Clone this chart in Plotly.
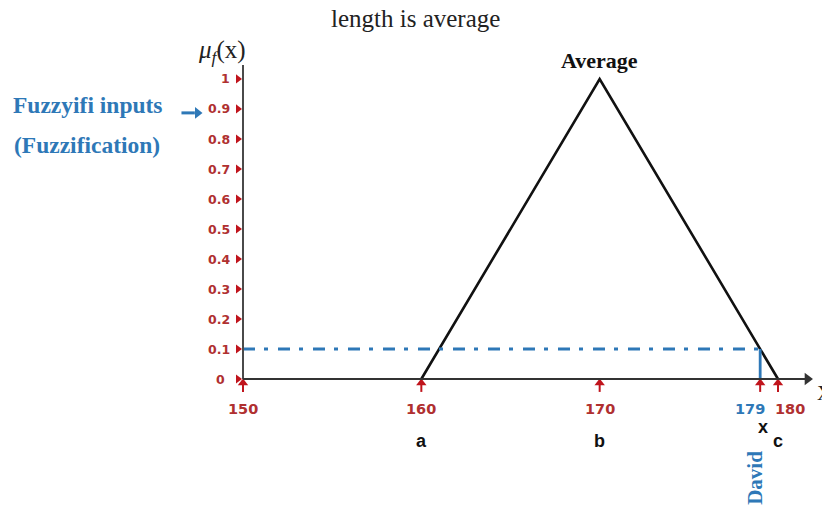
import plotly.graph_objects as go

# Membership function "average" (triangular) over length
mf_x = [160, 170, 180]
mf_y = [0, 1, 0]

# Crisp input and its membership degree
david_length = 179
david_mu = 0.1

# Axis ticks
y_ticks = [0, 0.1, 0.2, 0.3, 0.4, 0.5, 0.6, 0.7, 0.8, 0.9, 1]
y_tick_labels = ["0", "0.1", "0.2", "0.3", "0.4", "0.5", "0.6", "0.7", "0.8", "0.9", "1"]
x_ticks = [150, 160, 170, 179, 180]
x_tick_labels = ["150", "160", "170", "179", "180"]
x_tick_colors = ["#b03030", "#b03030", "#b03030", "#2e78b7", "#b03030"]
x_tick_label_shift = [0, 0, 0, -0.55, 0.65]

# Point names under the axis
point_names = ["a", "b", "c"]
point_x = [160, 170, 180]

RED = "#b03030"
ARROW_RED = "#c0141c"
BLUE = "#2e78b7"

x0 = 150
x_axis_end = 181.9
y_axis_top = 1.047

fig = go.Figure()

# Triangular membership curve
fig.add_trace(go.Scatter(x=mf_x, y=mf_y, mode="lines",
                         line=dict(color="#111111", width=2.6),
                         hoverinfo="skip"))

# Dash-dot level line at the membership degree
fig.add_trace(go.Scatter(x=[x0, david_length], y=[david_mu, david_mu], mode="lines",
                         line=dict(color=BLUE, width=2.8, dash="12px,9px,4px,10px"),
                         hoverinfo="skip"))

# Vertical drop from the curve to the crisp input
fig.add_trace(go.Scatter(x=[david_length, david_length], y=[david_mu, 0], mode="lines",
                         line=dict(color=BLUE, width=2.8),
                         hoverinfo="skip"))

# Y-axis tick markers
fig.add_trace(go.Scatter(x=[149.72] * len(y_ticks), y=y_ticks, mode="markers",
                         marker=dict(symbol="triangle-right", size=8, color=ARROW_RED),
                         hoverinfo="skip"))

# X-axis tick arrows: short stems with heads pointing up at the axis
for v in x_ticks:
    fig.add_trace(go.Scatter(x=[v, v], y=[-0.043, -0.015], mode="lines",
                             line=dict(color=ARROW_RED, width=2), hoverinfo="skip"))
fig.add_trace(go.Scatter(x=x_ticks, y=[-0.013] * len(x_ticks), mode="markers",
                         marker=dict(symbol="triangle-up", size=9, color=ARROW_RED),
                         hoverinfo="skip"))

# Axis lines
fig.add_shape(type="line", x0=x0, y0=0, x1=x0, y1=y_axis_top,
              line=dict(color="#4a4a4a", width=2))
fig.add_shape(type="line", x0=x0, y0=0, x1=x_axis_end - 0.3, y1=0,
              line=dict(color="#333333", width=2))

# X-axis arrowhead
fig.add_trace(go.Scatter(x=[x_axis_end - 0.25], y=[0], mode="markers",
                         marker=dict(symbol="triangle-right", size=11, color="#333333"),
                         hoverinfo="skip"))

# Arrow beside the side note
fig.add_trace(go.Scatter(x=[146.55, 147.3], y=[0.887, 0.887], mode="lines",
                         line=dict(color=BLUE, width=3), hoverinfo="skip"))
fig.add_trace(go.Scatter(x=[147.45], y=[0.887], mode="markers",
                         marker=dict(symbol="triangle-right", size=10, color=BLUE),
                         hoverinfo="skip"))

annotations = []

annotations.append(dict(x=182.05, y=-0.045, xref="x", yref="y", text="X",
                        showarrow=False, xanchor="left",
                        font=dict(family="Liberation Serif", size=20, color="#222222")))

# Y tick labels
for v, lab in zip(y_ticks, y_tick_labels):
    if lab == "0":
        annotations.append(dict(x=148.75, y=v, xref="x", yref="y", text=lab,
                                showarrow=False, xanchor="center",
                                font=dict(family="DejaVu Sans", size=12.5, color=RED, weight="bold")))
    else:
        annotations.append(dict(x=149.4, y=v, xref="x", yref="y", text=lab,
                                showarrow=False, xanchor="right",
                                font=dict(family="DejaVu Sans", size=12.5, color=RED, weight="bold")))

# X tick labels
for v, lab, col, sh in zip(x_ticks, x_tick_labels, x_tick_colors, x_tick_label_shift):
    annotations.append(dict(x=v + sh, y=-0.1, xref="x", yref="y", text=lab,
                            showarrow=False, xanchor="center",
                            font=dict(family="DejaVu Sans", size=14.5, color=col, weight="bold")))

# Point names a, b, c and the crisp input x
for name, px in zip(point_names, point_x):
    annotations.append(dict(x=px, y=-0.205, xref="x", yref="y", text=name,
                            showarrow=False, xanchor="center",
                            font=dict(family="Liberation Sans", size=18, color="#111111", weight="bold")))
annotations.append(dict(x=david_length + 0.15, y=-0.16, xref="x", yref="y", text="x",
                        showarrow=False, xanchor="center",
                        font=dict(family="Liberation Sans", size=18, color="#111111", weight="bold")))

# Name of the crisp input, written vertically
annotations.append(dict(x=david_length - 0.3, y=-0.33, xref="x", yref="y", text="David",
                        showarrow=False, textangle=-90,
                        font=dict(family="Liberation Serif", size=21, color=BLUE, weight="bold")))

# Fuzzy set label above the peak
annotations.append(dict(x=170, y=1.063, xref="x", yref="y", text="Average",
                        showarrow=False,
                        font=dict(family="Liberation Serif", size=22, color="#111111", weight="bold")))

# Membership axis label
annotations.append(dict(x=148.8, y=1.09, xref="x", yref="y",
                        text="<i>μ</i><sub><i>f</i></sub>(x)",
                        showarrow=False,
                        font=dict(family="Liberation Serif", size=25, color="#222222")))

# Side note pointing to the membership axis
annotations.append(dict(x=141.3, y=0.913, xref="x", yref="y", text="Fuzzyifi inputs",
                        showarrow=False,
                        font=dict(family="Liberation Serif", size=23.5, color=BLUE, weight="bold")))
annotations.append(dict(x=141.25, y=0.78, xref="x", yref="y", text="(Fuzzification)",
                        showarrow=False,
                        font=dict(family="Liberation Serif", size=23.5, color=BLUE, weight="bold")))

# Chart title
annotations.append(dict(x=159.65, y=1.2, xref="x", yref="y", text="length is average",
                        showarrow=False,
                        font=dict(family="Liberation Serif", size=25, color="#222222")))

fig.update_layout(
    width=822, height=512,
    margin=dict(l=0, r=0, t=0, b=0),
    paper_bgcolor="white", plot_bgcolor="white",
    showlegend=False,
    xaxis=dict(range=[136.374, 182.467], visible=False, fixedrange=True),
    yaxis=dict(range=[-0.4433, 1.2633], visible=False, fixedrange=True),
    annotations=annotations,
)

fig.write_html("out.html")
